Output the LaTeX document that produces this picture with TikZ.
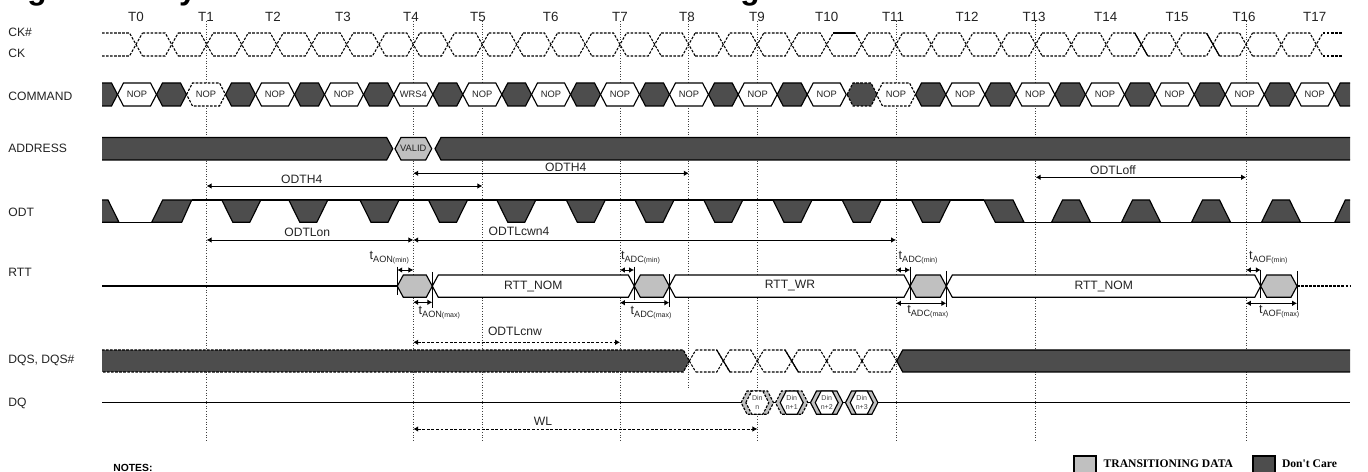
\documentclass[tikz,border=0pt]{standalone}
\usepackage{fontspec}
\setmainfont{Liberation Sans}
\newfontfamily\legendfont{Liberation Serif}
\usetikzlibrary{arrows.meta}
\definecolor{dkfill}{HTML}{4D4D4D}
\definecolor{ltfill}{HTML}{C0C0C0}
\definecolor{inktext}{HTML}{222222}
% left, right, top, bottom
\newcommand{\hexseg}[5][]{\draw[#1] (#2,{(#4+#5)/2}) -- ({#2+6},#4) -- ({#3-6},#4) -- (#3,{(#4+#5)/2}) -- ({#3-6},#5) -- ({#2+6},#5) -- cycle;}
\newcommand{\tlab}[2]{\fontsize{7.2}{8}\selectfont t\raisebox{-1.3pt}{\fontsize{5.2}{6}\selectfont #1\fontsize{4}{5}\selectfont(#2)}}
\tikzset{
  siglabel/.style={anchor=west, inner sep=0pt, text=inktext, font=\fontsize{6.9}{8}\selectfont},
  ticklabel/.style={inner sep=0pt, text=inktext, font=\fontsize{7.6}{9}\selectfont},
  cmdlabel/.style={inner sep=0pt, text=inktext, font=\fontsize{5.3}{6}\selectfont},
  dinlabel/.style={inner sep=0pt, align=center, text=inktext!85, font=\fontsize{4}{5}\selectfont},
  msrlabel/.style={inner sep=0pt, text=inktext, font=\fontsize{6.9}{8}\selectfont},
  tlabel/.style={anchor=west, inner sep=0pt, text=inktext},
  guideline/.style={densely dotted, line width=0.5pt, black!75},
  ckline/.style={line width=0.6pt, dash pattern=on 1.5pt off 0.8pt},
  wave/.style={line width=0.65pt},
  white seg/.style={wave, fill=white},
  dark seg/.style={wave, fill=dkfill},
  light seg/.style={wave, fill=ltfill},
  dashseg/.style={line width=0.65pt, dash pattern=on 1.5pt off 0.8pt},
  msr/.style={<->, >={Latex[length=2.8pt,width=3.2pt]}, line width=0.5pt},
  msrdash/.style={msr, dash pattern=on 1.6pt off 1pt},
  mark tick/.style={line width=0.5pt},
}
\begin{document}
\begin{tikzpicture}[x=0.02cm, y=-0.02cm]
\path[use as bounding box, clip] (0,0) rectangle (1368,472);

% title, only the feet of its letters are left
\node[anchor=base, inner sep=0pt, font=\fontsize{18}{20}\bfseries] (titleA) at (37,0) {g};
\node[anchor=base, inner sep=0pt, font=\fontsize{18}{20}\bfseries] (titleB) at (188,0) {y};
\node[anchor=base, inner sep=0pt, font=\fontsize{18}{20}\bfseries] (titleC) at (750,0) {g};

% clock ticks
\foreach \tx [count=\i from 0] in {136,206,273,343,411,478,550.7,620,687,757,826.7,893,967,1034,1105.7,1177,1244,1314.7}
  \node[ticklabel] (T\i) at (\tx,17) {T\i};

% signal names
\node[siglabel] (ckbar) at (8,32) {CK\#};
\node[siglabel] (ck) at (8,53) {CK};
\node[siglabel] (command) at (8,96.5) {COMMAND};
\node[siglabel] (address) at (8,148.7) {ADDRESS};
\node[siglabel] (odt) at (8,212.3) {ODT};
\node[siglabel] (rtt) at (8,272.3) {RTT};
\node[siglabel] (dqs) at (8,360.7) {DQS, DQS\#};
\node[siglabel] (dq) at (8,403.3) {DQ};

% guides
\foreach \gx/\gy in {206.7/441,413.3/441,482.3/441,620/441,688.7/388,757.3/441,896/441,1035.7/441,1246/441}
  \draw[guideline] (\gx,21) -- (\gx,\gy);

% CK and CK#
\foreach \cx [remember=\cx as \px (initially 95.5)] in {136,171.7,206.7,241.7,276.7,311.7,346.7,379,413.3,448,482.3,516.7,551,585.3,620,654.7,688.7,723.3,757.3,791.7,826.7,861.7,896,931.3,966.3,1001.3,1035.7,1071.3,1106.3,1141.3,1176.3,1213,1246,1281.3,1316.3}{
  \draw[ckline] ({\px+6.5},33) -- ({\cx-6.5},33) -- ({\cx+6.5},56);
  \draw[ckline] ({\px+6.5},56) -- ({\cx-6.5},56) -- ({\cx+6.5},33);
}
\draw[ckline] (1322.8,33) -- (1343,33);
\draw[ckline] (1322.8,56) -- (1343,56);
\draw[wave] (833,33) -- (855,33);
\draw[wave] (1134.8,33) -- (1147.8,56);
\draw[wave] (1206.5,33) -- (1219.5,56);

% COMMAND
\filldraw[dark seg] (102,83) -- (111.5,83) -- (117.5,94.5) -- (111.5,106) -- (102,106);
\foreach \c [remember=\c as \pc (initially 0)] in {137,206,275,344,413.3,482.3,551,620,689,757.7,826.7}
  \ifdim\pc pt>0pt \hexseg[dark seg]{\pc+19.5}{\c-19.5}{83}{106} \fi;
\foreach \c [remember=\c as \pc (initially 0)] in {896,965.3,1035.3,1105,1174.7,1244.7,1314.7}
  \ifdim\pc pt>0pt \hexseg[dark seg]{\pc+19.5}{\c-19.5}{83}{106} \fi;
\hexseg[dashseg, fill=dkfill]{847}{877}{83}{106}
\foreach \c [count=\i] in {137,275,344,482.3,551,620,689,757.7,826.7,965.3,1035.3,1105,1174.7,1244.7,1314.7}{
  \hexseg[white seg]{\c-19.5}{\c+19.5}{83}{106}
  \node[cmdlabel] (nop\i) at (\c,94.5) {NOP};
}
\foreach \c [count=\i] in {206,896}{
  \hexseg[dashseg, fill=white]{\c-19.5}{\c+19.5}{83}{106}
  \node[cmdlabel] (nopd\i) at (\c,94.5) {NOP};
}
\hexseg[white seg]{393.8}{432.8}{83}{106}
\node[cmdlabel] (wrs) at (413.3,94.5) {WRS4};
\filldraw[dark seg] (1350,83) -- (1340.2,83) -- (1334.2,94.5) -- (1340.2,106) -- (1350,106);

% ADDRESS
\filldraw[dark seg] (102,137.5) -- (386.7,137.5) -- (392.7,148.7) -- (386.7,160) -- (102,160);
\hexseg[light seg]{395}{431.7}{137.5}{160}
\node[cmdlabel] (valid) at (413.3,148.7) {VALID};
\filldraw[dark seg] (1350,137.5) -- (441,137.5) -- (435,148.7) -- (441,160) -- (1350,160);

% ODT
\draw[wave] (191.7,200) -- (984,200);
\draw[wave] (119,222.3) -- (152,222.3);
\draw[wave] (1024,222.3) -- (1350,222.3);
\filldraw[dark seg] (102,200) -- (108,200) -- (119,222.3) -- (102,222.3);
\filldraw[dark seg] (151.7,222.3) -- (162.7,200) -- (191.7,200) -- (181.7,222.3) -- cycle;
\foreach \c in {241.3,308.3,379.5,448,516.3,585.8,654.5,723.3,792.5,861.7,931}
  \filldraw[dark seg] ({\c-19.5},200) -- ({\c+19.5},200) -- ({\c+8.5},222.3) -- ({\c-8.5},222.3) -- cycle;
\filldraw[dark seg] (984,200) -- (1013,200) -- (1024,222.3) -- (995.3,222.3) -- cycle;
\foreach \c in {1071,1141,1211,1281}
  \filldraw[dark seg] ({\c-19.5},222.3) -- ({\c+19.5},222.3) -- ({\c+8.5},200) -- ({\c-8.5},200) -- cycle;
\filldraw[dark seg] (1350,222.3) -- (1334.7,222.3) -- (1345.3,200) -- (1350,200);

% RTT
\draw[wave] (102,286) -- (397.3,286);
\hexseg[light seg]{397.3}{432.3}{275}{297.3}
\hexseg[white seg]{432.3}{634.3}{275}{297.3}
\hexseg[light seg]{634.3}{669.3}{275}{297.3}
\hexseg[white seg]{669.3}{910}{275}{297.3}
\hexseg[light seg]{910}{946.3}{275}{297.3}
\hexseg[white seg]{946.3}{1260.7}{275}{297.3}
\hexseg[light seg]{1260.7}{1297}{275}{297.3}
\draw[dashseg] (1297,286) -- (1350,286);
\node[msrlabel] (nomA) at (533.3,286) {RTT\_NOM};
\node[msrlabel] (wr) at (790,286) {RTT\_WR};
\node[msrlabel] (nomB) at (1103.7,286) {RTT\_NOM};
\foreach \mx/\mt/\mb in {397.3/266.7/295,432.3/272/307.7,634/266.7/300,669.3/274/306.7,910/266.7/300,946.3/271/306.7,1260.7/270/298,1297/271/310}
  \draw[mark tick] (\mx,\mt) -- (\mx,\mb);

% DQS, DQS#
\fill[dkfill] (102,350) -- (683.3,350) -- (689.3,361) -- (683.3,372) -- (102,372) -- cycle;
\draw[dashseg] (102,350) -- (683.3,350) -- (689.3,361) -- (683.3,372) -- (102,372);
\foreach \cx [remember=\cx as \px (initially 689.3)] in {723.3,757.3,791.7,826.7,862,896.7}{
  \draw[ckline] ({\px+6.5},350) -- ({\cx-6.5},350) -- (\cx,361);
  \draw[ckline] ({\px+6.5},372) -- ({\cx-6.5},372) -- (\cx,361);
  \draw[ckline] (\px,361) -- ({\px+6.5},350);
  \draw[ckline] (\px,361) -- ({\px+6.5},372);
}
\draw[wave] (716.7,350) -- (730,372);
\draw[wave] (785,350) -- (798.4,372);
\filldraw[dark seg] (1350,350) -- (902.7,350) -- (896.7,361) -- (902.7,372) -- (1350,372);

% DQ
\draw[wave] (102,402.7) -- (1350,402.7);
\foreach \c/\lb/\oo/\ii in {757.3/n/dashseg/dashseg,791.7/n+1/dashseg/wave,826.7/n+2/wave/wave,861.7/n+3/wave/wave}{
  \hexseg[\oo, fill=ltfill]{\c-16.2}{\c+16.2}{391}{414.3}
  \hexseg[\ii, fill=white]{\c-11.5}{\c+11.5}{391}{414.3}
  \node[dinlabel] (din\lb) at (\c,402.7) {Din\\\lb};
}

% measurements
\foreach \nm/\xx/\yy in {odthA/206.7/186,odthB/482.3/186,odthC/413.3/173.3,odthD/688.7/173.3,offA/1035.7/177.3,offB/1246/177.3,
  onA/206.7/240,onB/413.3/240,cwnA/413.3/240,cwnB/896/240,
  aonA/397.3/270,aonB/413.3/270,aonC/413.3/302.3,aonD/432.3/302.3,
  adcA/620/270,adcB/634/270,adcC/620/302.7,adcD/669.3/302.7,
  adcE/896/270,adcF/910/270,adcG/896/303.3,adcH/946.3/303.3,
  aofA/1246/270,aofB/1260.7/270,aofC/1246/303.3,aofD/1297/303.3,
  cnwA/413.3/342.3,cnwB/620/342.3,wlA/413.3/429,wlB/757.3/429}
  \coordinate (\nm) at (\xx,\yy);
\draw[msr] (odthA) -- (odthB);
\draw[msr] (odthC) -- (odthD);
\draw[msr] (offA) -- (offB);
\draw[msr] (onA) -- (onB);
\draw[msr] (cwnA) -- (cwnB);
\draw[msr] (aonA) -- (aonB);
\draw[msr] (aonC) -- (aonD);
\draw[msr] (adcA) -- (adcB);
\draw[msr] (adcC) -- (adcD);
\draw[msr] (adcE) -- (adcF);
\draw[msr] (adcG) -- (adcH);
\draw[msr] (aofA) -- (aofB);
\draw[msr] (aofC) -- (aofD);
\draw[msrdash] (cnwA) -- (cnwB);
\draw[msrdash] (wlA) -- (wlB);
\node[msrlabel] (lodthA) at (301.7,179) {ODTH4};
\node[msrlabel] (lodthB) at (565.7,167.3) {ODTH4};
\node[msrlabel] (loff) at (1113,170) {ODTLoff};
\node[msrlabel] (lon) at (307.3,232.3) {ODTLon};
\node[msrlabel] (lcwn) at (519,231.7) {ODTLcwn4};
\node[msrlabel] (lcnw) at (515,331) {ODTLcnw};
\node[msrlabel] (lwl) at (543,421) {WL};
\node[tlabel] (taonA) at (369.3,257.5) {\tlab{AON}{min}};
\node[tlabel] (taonB) at (418.3,312.5) {\tlab{AON}{max}};
\node[tlabel] (tadcA) at (620.7,257.5) {\tlab{ADC}{min}};
\node[tlabel] (tadcB) at (630.3,312.5) {\tlab{ADC}{max}};
\node[tlabel] (tadcC) at (898.3,257.5) {\tlab{ADC}{min}};
\node[tlabel] (tadcD) at (907,311.5) {\tlab{ADC}{max}};
\node[tlabel] (taofA) at (1248.7,257.5) {\tlab{AOF}{min}};
\node[tlabel] (taofB) at (1258.7,311.5) {\tlab{AOF}{max}};

% notes and legend
\node[anchor=west, inner sep=0pt, font=\fontsize{5.9}{7}\bfseries] (notes) at (113,468) {NOTES:};
\node[draw, line width=0.65pt, fill=ltfill, minimum width=0.44cm, minimum height=0.44cm, inner sep=0pt] (legLt) at (1085,467) {};
\node[anchor=west, inner sep=0pt, font=\legendfont\fontsize{6.6}{8}\bfseries] (legLtText) at (1103.3,464) {TRANSITIONING DATA};
\node[draw, line width=0.65pt, fill=dkfill, minimum width=0.44cm, minimum height=0.44cm, inner sep=0pt] (legDk) at (1264,467) {};
\node[anchor=west, inner sep=0pt, font=\legendfont\fontsize{6.6}{8}\bfseries] (legDkText) at (1281.7,464) {Don't Care};
\end{tikzpicture}
\end{document}
